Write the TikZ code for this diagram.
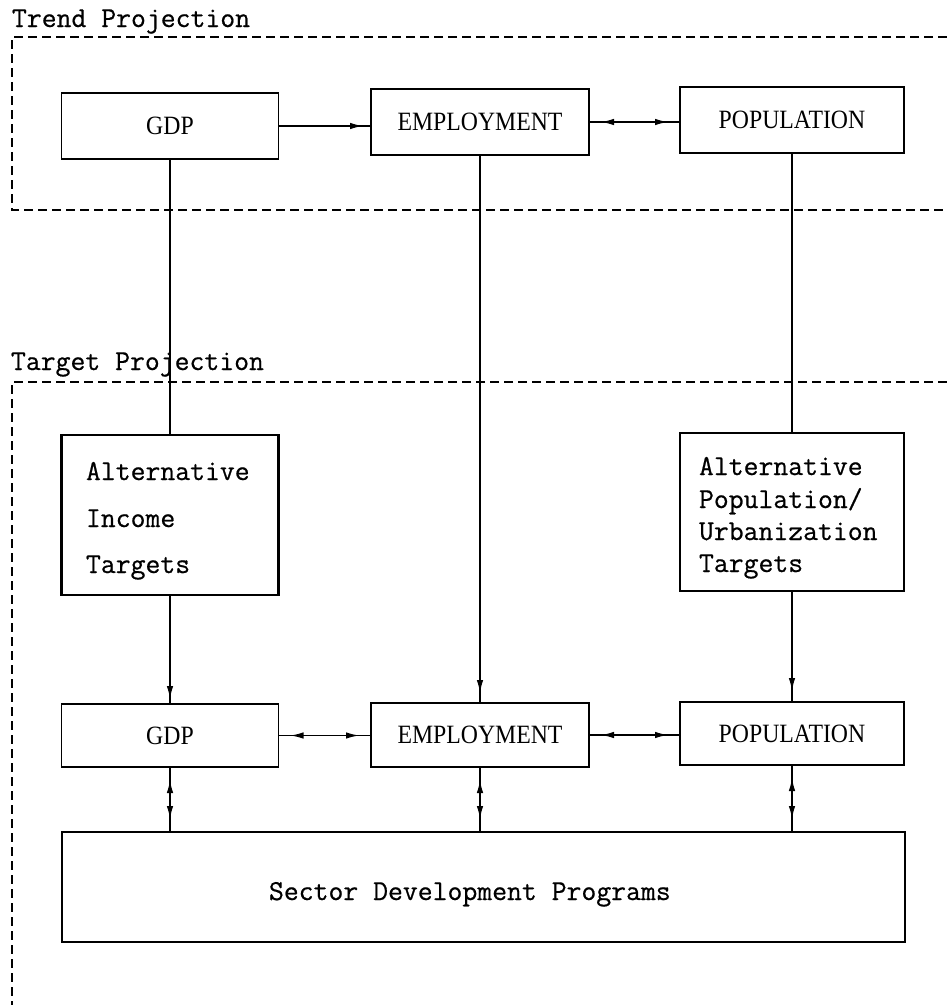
\documentclass[tikz,border=0pt]{standalone}
\usepackage{fontspec}
\newfontfamily\boxfont[FakeStretch=0.9]{Liberation Serif}
\newfontfamily\typefont[FakeBold=0.6]{Latin Modern Mono}
\usetikzlibrary{arrows.meta,decorations.markings}
\tikzset{
  every node/.style={inner sep=0pt, outer sep=0pt},
  blk/.style={draw, line width=1.6bp},
  bigblk/.style={draw, line width=2.3bp},
  lbl/.style={font=\boxfont\fontsize{26.5}{30}\selectfont},
  tt/.style={font=\typefont\fontsize{29}{32}\selectfont},
  conn/.style={line width=1.3bp},
  frame/.style={line width=1.1bp, dash pattern=on 9bp off 5bp},
  endarr/.style={conn, postaction=decorate,
    decoration={markings, mark=at position -#1 with {\arrow{Latex[length=13bp,width=6.5bp]}}}},
  endarr/.default=8bp,
  dblarr/.style={conn, postaction=decorate,
    decoration={markings,
      mark=at position #1 with {\arrowreversed{Latex[length=13bp,width=6.5bp]}},
      mark=at position -#1 with {\arrow{Latex[length=13bp,width=6.5bp]}}}},
  dblarr/.default=11bp,
}
\begin{document}
\begin{tikzpicture}[x=1bp,y=-1bp]
\useasboundingbox (0,0) rectangle (947,1005);

% frames
\draw[frame] (947,37) -- (12,37) -- (12,210) -- (947,210);
\draw[frame] (947,382) -- (12,382) -- (12,1005);

% section labels
\node[tt, anchor=base west] (trendlbl) at (12,27) {Trend Projection};
\node[tt, anchor=base west] (targetlbl) at (11,370) {Target Projection};

% trend row
\node[blk, lbl, minimum width=217bp, minimum height=66bp] (gdp1) at (170,126) {GDP};
\node[blk, lbl, minimum width=218bp, minimum height=66bp] (emp1) at (480,122) {EMPLOYMENT};
\node[blk, lbl, minimum width=224bp, minimum height=66bp] (pop1) at (792,120) {POPULATION};

% target boxes
\node[bigblk, minimum width=217bp, minimum height=160bp] (altinc) at (170,515) {};
\node[tt, anchor=base west] (altinc1) at (86,480) {Alternative};
\node[tt, anchor=base west] (altinc2) at (86,527) {Income};
\node[tt, anchor=base west] (altinc3) at (86,573) {Targets};

\node[bigblk, minimum width=224bp, minimum height=158bp] (altpop) at (792,512) {};
\node[tt, anchor=base west] (altpop1) at (699,475) {Alternative};
\node[tt, anchor=base west] (altpop2) at (699,508) {Population/};
\node[tt, anchor=base west] (altpop3) at (699,540) {Urbanization};
\node[tt, anchor=base west] (altpop4) at (699,572) {Targets};

% target row
\node[blk, lbl, minimum width=217bp, minimum height=63bp] (gdp2) at (170,735.5) {GDP};
\node[blk, lbl, minimum width=218bp, minimum height=64bp] (emp2) at (480,735) {EMPLOYMENT};
\node[blk, lbl, minimum width=224bp, minimum height=63bp] (pop2) at (792,733.5) {POPULATION};

% sector box
\node[bigblk, minimum width=843bp, minimum height=110bp] (sector) at (483.5,887) {};
\node[tt, anchor=base west] (sectortxt) at (269,900) {Sector Development Programs};

% connectors, trend
\draw[endarr] (gdp1.east) -- (gdp1.east -| emp1.west);
\draw[dblarr=12bp] (emp1.east) -- (emp1.east -| pop1.west);
\draw[conn] (gdp1.south) -- (gdp1.south |- altinc.north);
\draw[endarr=10bp] (emp1.south) -- (emp1.south |- emp2.north);
\draw[conn] (pop1.south) -- (pop1.south |- altpop.north);

% connectors, target
\draw[endarr=5bp] (altinc.south) -- (altinc.south |- gdp2.north);
\draw[endarr=11bp] (altpop.south) -- (altpop.south |- pop2.north);
\draw[dblarr=12bp] (gdp2.east) -- (gdp2.east -| emp2.west);
\draw[dblarr=12bp] (emp2.east) -- (emp2.east -| pop2.west);
\draw[dblarr=13bp] (gdp2.south) -- (gdp2.south |- sector.north);
\draw[dblarr=13bp] (emp2.south) -- (emp2.south |- sector.north);
\draw[dblarr=13bp] (pop2.south) -- (pop2.south |- sector.north);
\end{tikzpicture}
\end{document}
